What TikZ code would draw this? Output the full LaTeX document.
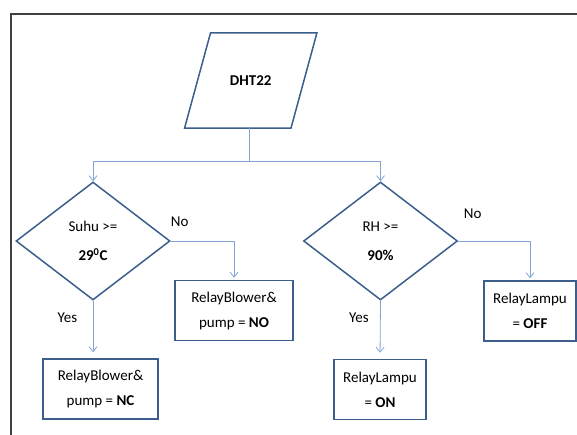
\documentclass[tikz,border=0pt]{standalone}
\usepackage{fontspec}
\setmainfont{Carlito}
\definecolor{shapeline}{RGB}{59, 94, 140}
\definecolor{connline}{RGB}{130, 165, 215}
\definecolor{frameline}{RGB}{64, 64, 64}
\usetikzlibrary{positioning,shapes.geometric,arrows.meta}

\begin{document}
\begin{tikzpicture}[
            x=1pt, y=-1pt,
            every node/.style={font=\fontsize{15pt}{25pt}\selectfont},
            inputbox/.style={
                rectangle, minimum width=106pt, minimum height=95pt, inner sep=0pt
            },
            decision/.style={
                diamond, draw=shapeline, line width=1.5pt,
                minimum width=154pt, minimum height=118pt, inner sep=0pt,
                align=center, font=\fontsize{15pt}{29pt}\selectfont
            },
            relaybox/.style={
                rectangle, draw=shapeline, line width=1.5pt,
                minimum height=60pt, inner sep=0pt, align=center
            },
            conn/.style={draw=connline, line width=0.8pt},
            arr/.style={conn, -{Straight Barb[length=5pt,width=8pt]}},
        ]

            \useasboundingbox (0,0) rectangle (577,435);
            \draw[frameline, line width=1.5pt] (11,435) -- (11,14) -- (577,14);

            \node [inputbox] (dht) at (250.75,80.5) {\textbf{DHT22}};
            \draw[shapeline, line width=1.5pt]
                ([xshift=13pt]dht.north west) -- ([xshift=13pt]dht.north east)
                -- ([xshift=-13pt]dht.south east) -- ([xshift=-13pt]dht.south west) -- cycle;
            \coordinate (split) at (249,161);

            \node [decision] (suhu) at (93,241) {Suhu >=\\ \textbf{29\textsuperscript{0}C}};
            \node [decision] (rh)   [right= 132pt of suhu] {RH >=\\ \textbf{90\%}};

            \node [relaybox, minimum width=115pt] (nc)  at (100.5,389) {RelayBlower\&\\ pump = \textbf{NC}};
            \node [relaybox, minimum width=118pt] (no)  at (234,310.5) {RelayBlower\&\\ pump = \textbf{NO}};
            \node [relaybox, minimum width=92pt]  (on)  at (380,389.5) {RelayLampu\\ = \textbf{ON}};
            \node [relaybox, minimum width=92pt]  (off) at (530,311)   {RelayLampu\\ = \textbf{OFF}};

            \draw[conn] (dht.south -| split) -- (split);
            \draw[arr] (split) -| (suhu.north);
            \draw[arr] (split) -| (rh.north);

            \draw[arr, shorten >=2pt] (suhu.east) -| (no.north) node [pos=0.07, above=11pt] {No};
            \draw[arr, shorten >=6pt] (suhu.south) -- (suhu.south |- nc.north) node [pos=0.3, left=12pt] {Yes};

            \draw[arr, shorten >=2pt] (rh.east) -| (off.north) node [pos=0.1, above=19pt] {No};
            \draw[arr, shorten >=6pt] (rh.south) -- (on.north) node [pos=0.3, left=8pt] {Yes};

        \end{tikzpicture}
\end{document}
